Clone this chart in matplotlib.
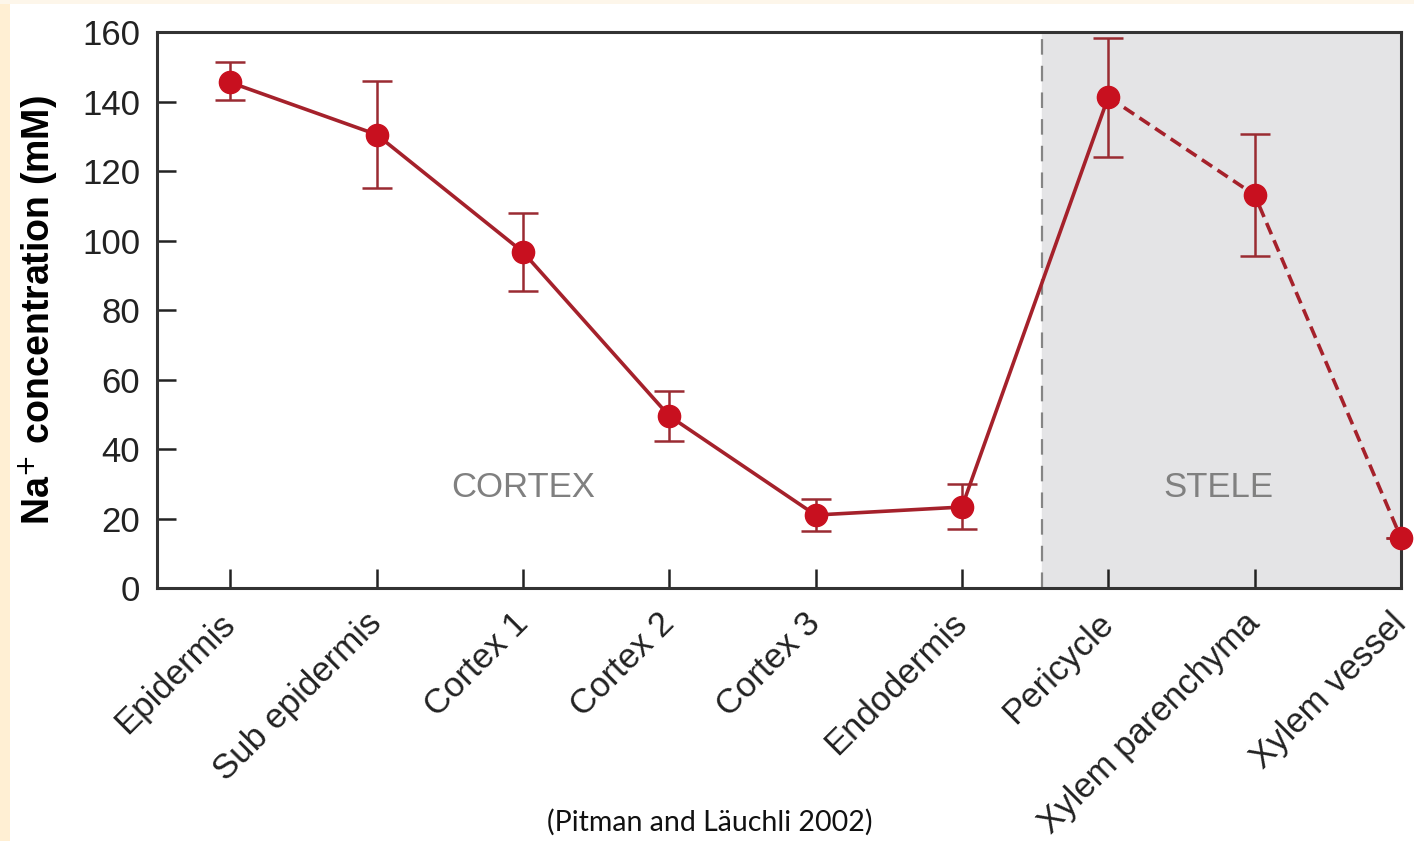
import matplotlib
matplotlib.use("Agg")
import matplotlib.pyplot as plt
from matplotlib.patches import Rectangle
from matplotlib.transforms import ScaledTranslation

# Na+ concentration across root tissues
tissues = ["Epidermis", "Sub epidermis", "Cortex 1", "Cortex 2", "Cortex 3",
           "Endodermis", "Pericycle", "Xylem parenchyma", "Xylem vessel"]
na_conc = [145.5, 130.5, 96.7, 49.5, 21.0, 23.3, 141.3, 113.1, 14.4]
err_up  = [6.0, 15.4, 11.3, 7.3, 4.6, 6.6, 17.0, 17.5, 0.0]
err_dn  = [5.0, 15.4, 11.3, 7.3, 4.6, 6.3, 17.3, 17.6, 0.0]
yticks  = [0, 20, 40, 60, 80, 100, 120, 140, 160]

line_col = "#a5212b"
dot_col  = "#c8101f"
err_col  = "#9a2b32"
stele_start = 5.55

plt.rcParams["font.family"] = ["Liberation Sans", "DejaVu Sans"]

fig = plt.figure(figsize=(14.14, 8.41), dpi=100)
fig.patch.set_facecolor("white")
# cream edges
fig.add_artist(Rectangle((0, 0), 10/1414, 1, transform=fig.transFigure,
                         facecolor="#ffefd3", edgecolor="none", zorder=-5))
fig.add_artist(Rectangle((0, 1 - 4/841), 1, 4/841, transform=fig.transFigure,
                         facecolor="#fdf6ea", edgecolor="none", zorder=-5))

ax = fig.add_axes([157/1414, 1 - 588/841, (1401 - 157)/1414, (588 - 32)/841])
x = list(range(len(tissues)))

ax.axvspan(stele_start, 8, color="#e4e4e6", zorder=0)
ax.axvline(stele_start, color="#858585", linestyle=(0, (7, 5)), linewidth=1.6, zorder=1)

ax.errorbar(x, na_conc, yerr=[err_dn, err_up], fmt="none", ecolor=err_col,
            elinewidth=1.8, capsize=11, capthick=1.8, zorder=2)
ax.plot(x[:7], na_conc[:7], color=line_col, linewidth=2.6, zorder=3)
ax.plot(x[6:], na_conc[6:], color=line_col, linewidth=2.6,
        linestyle=(0, (3.4, 1.8)), zorder=3)
ax.plot(x, na_conc, "o", color=dot_col, markersize=16, zorder=4, clip_on=False)

ax.text(2, 29, "CORTEX", ha="center", va="center", fontsize=25, color="#808080")
ax.text(6.75, 29, "STELE", ha="center", va="center", fontsize=25, color="#808080")

ax.set_xlim(-0.5, 8)
ax.set_ylim(0, 160)
ax.set_yticks(yticks)
ax.set_xticks(x)
ax.set_xticklabels(tissues, rotation=45, ha="right", va="center", rotation_mode="anchor")
shift = ScaledTranslation(-4/100, 0, fig.dpi_scale_trans)
for lbl in ax.get_xticklabels():
    lbl.set_transform(lbl.get_transform() + shift)
ax.tick_params(axis="both", direction="in", length=14, width=1.8, colors="#222222",
               labelsize=25, pad=12)
ax.tick_params(axis="x", pad=22)
for s in ax.spines.values():
    s.set_linewidth(2.2)
    s.set_color("#333333")

ax.set_ylabel("Na$^{+}$ concentration (mM)", fontsize=27, fontweight="bold")
ax.yaxis.set_label_coords(-0.078, 0.5)

fig.text(710/1414, 1 - 822/841, "(Pitman and Läuchli 2002)", ha="center", va="center",
         fontsize=20.5, family=["Lato", "DejaVu Sans"], color="#111111")

fig.savefig("out.png", dpi=100)
